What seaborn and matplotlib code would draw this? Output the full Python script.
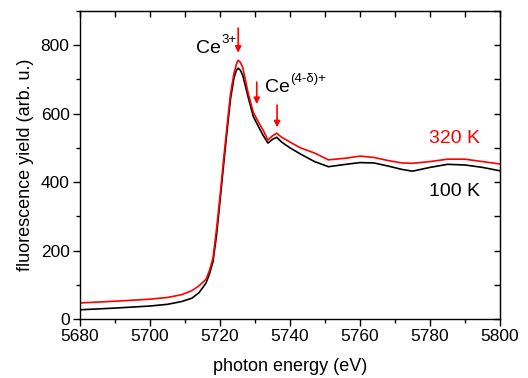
import numpy as np
import pandas as pd
import matplotlib
matplotlib.use('Agg')
import matplotlib.pyplot as plt
import seaborn as sns
from matplotlib.ticker import MultipleLocator

# photon energy grid (eV)
energy = [5680, 5690, 5700, 5705, 5709, 5712, 5714, 5716, 5717, 5718,
          5719, 5720, 5721, 5722, 5723, 5724, 5724.7, 5725.2, 5725.8, 5726.5,
          5728, 5729.5, 5731, 5732.3, 5733.7, 5735, 5736.2, 5737.6, 5740, 5743,
          5747, 5751, 5756, 5760, 5764, 5768, 5772, 5775, 5780, 5785,
          5790, 5795, 5800]

# fluorescence yield, 100 K
yield_100K = [27, 32, 38, 43, 51, 61, 77, 105, 132, 168,
              244, 345, 448, 548, 643, 705, 727, 733, 727, 712,
              650, 592, 562, 537, 514, 525, 531, 517, 500, 482,
              460, 445, 452, 457, 456, 447, 437, 432, 443, 452,
              450, 443, 433]

# fluorescence yield, 320 K
yield_320K = [47, 52, 58, 63, 71, 83, 97, 116, 142, 178,
              262, 358, 463, 562, 658, 718, 745, 756, 750, 735,
              662, 604, 575, 552, 523, 535, 543, 531, 517, 500,
              485, 465, 470, 476, 472, 463, 456, 455, 460, 467,
              467, 460, 453]

colors = {'320 K': '#ff0000', '100 K': '#000000'}

df = pd.DataFrame({'energy': energy * 2,
                   'yield': yield_100K + yield_320K,
                   'T': ['100 K'] * len(energy) + ['320 K'] * len(energy)})

sns.set_style('ticks')
plt.rcParams['font.family'] = ['Liberation Sans', 'DejaVu Sans']
plt.rcParams['text.color'] = 'black'
plt.rcParams['axes.labelcolor'] = 'black'

fig = plt.figure(figsize=(5.28, 3.78), dpi=100)
ax = fig.add_axes([0.1515, 0.156, 0.7955, 0.815])

sns.lineplot(data=df, x='energy', y='yield', hue='T', hue_order=['100 K', '320 K'],
             palette=colors, lw=1.2, ax=ax, legend=False, sort=False,
             estimator=None)

ax.set_xlim(5680, 5800)
ax.set_ylim(0, 900)
ax.xaxis.set_major_locator(MultipleLocator(20))
ax.xaxis.set_minor_locator(MultipleLocator(10))
ax.yaxis.set_major_locator(MultipleLocator(200))
ax.yaxis.set_minor_locator(MultipleLocator(100))
ax.tick_params(axis='both', which='major', direction='out', length=5, width=1,
               labelsize=12.5, colors='black', pad=2.5)
ax.tick_params(axis='both', which='minor', direction='out', length=3, width=1,
               colors='black')
for sp in ax.spines.values():
    sp.set_linewidth(1)
    sp.set_color('black')

# mirror ticks on top/right pointing inward
axt = ax.secondary_xaxis('top')
axt.xaxis.set_major_locator(MultipleLocator(10))
axt.tick_params(direction='in', length=4, width=1, labeltop=False, colors='black')
axr = ax.secondary_yaxis('right')
axr.yaxis.set_major_locator(MultipleLocator(100))
axr.tick_params(direction='in', length=4, width=1, labelright=False, colors='black')

ax.set_xlabel('photon energy (eV)', fontsize=13, labelpad=10, color='black')
ax.set_ylabel('fluorescence yield (arb. u.)', fontsize=13, labelpad=5, color='black')

# peak labels (Ce + raised charge) and arrows
labels = [(5713.2, 777, '3+'), (5732.9, 663, '(4-δ)+')]
for xl, yl, sup in labels:
    ax.text(xl, yl, 'Ce', fontsize=14, ha='left', va='baseline', color='black')
    ax.annotate(sup, xy=(xl, yl), xytext=(18, 7), textcoords='offset points',
                fontsize=9.5, ha='left', va='baseline', color='black')

arrows = [(5725.2, 850, 778), (5730.5, 692, 628), (5736.3, 625, 560)]
for xa, y0, y1 in arrows:
    ax.annotate('', xy=(xa, y1), xytext=(xa, y0),
                arrowprops=dict(arrowstyle='-|>', color='#ff0000', lw=1.2,
                                mutation_scale=9, shrinkA=0, shrinkB=0))

ax.text(5786.9, 528, '320 K', color='#ff0000', fontsize=14, ha='center', va='center')
ax.text(5786.9, 374, '100 K', color='black', fontsize=14, ha='center', va='center')

plt.savefig('out.png', dpi=100)
